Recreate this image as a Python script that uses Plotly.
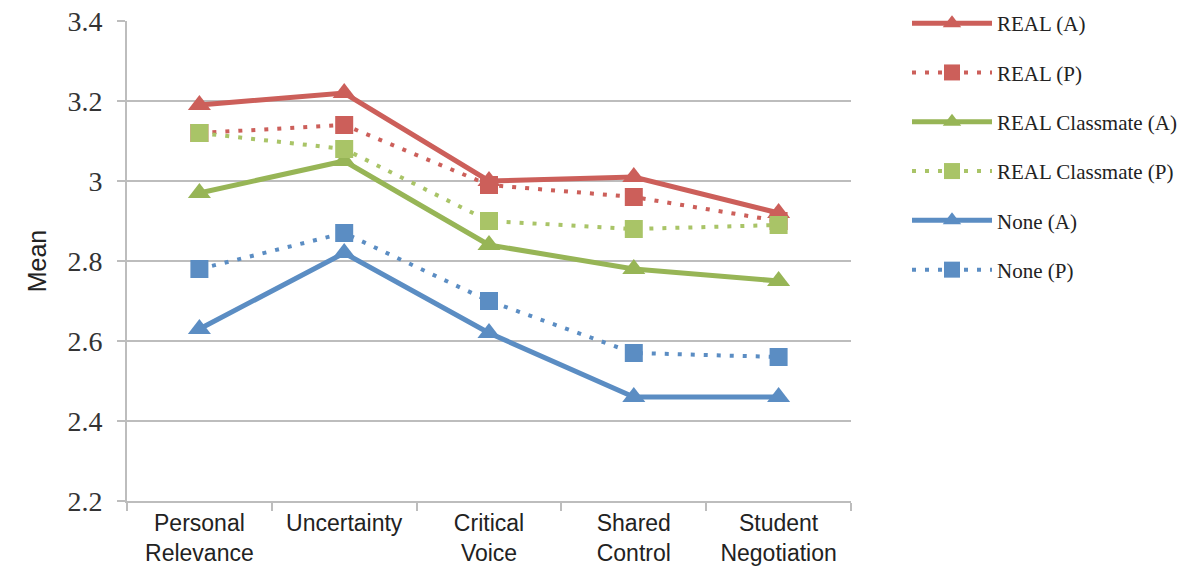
import plotly.graph_objects as go

categories = ["Personal<br>Relevance", "Uncertainty", "Critical<br>Voice", "Shared<br>Control", "Student<br>Negotiation"]

real_a = [3.19, 3.22, 3.00, 3.01, 2.92]
real_p = [3.12, 3.14, 2.99, 2.96, 2.90]
classmate_a = [2.97, 3.05, 2.84, 2.78, 2.75]
classmate_p = [3.12, 3.08, 2.90, 2.88, 2.89]
none_a = [2.63, 2.82, 2.62, 2.46, 2.46]
none_p = [2.78, 2.87, 2.70, 2.57, 2.56]

y_ticks = [2.2, 2.4, 2.6, 2.8, 3.0, 3.2, 3.4]
y_tick_labels = ["2.2", "2.4", "2.6", "2.8", "3", "3.2", "3.4"]

RED = "#CC5F5A"
GREEN_A = "#97B556"
GREEN_P = "#A9C467"
BLUE = "#5B8DC3"

series = [
    ("REAL (A)", real_a, RED, "solid", "triangle-up"),
    ("REAL (P)", real_p, RED, "4px,9px", "square"),
    ("REAL Classmate (A)", classmate_a, GREEN_A, "solid", "triangle-up"),
    ("REAL Classmate (P)", classmate_p, GREEN_P, "4px,9px", "square"),
    ("None (A)", none_a, BLUE, "solid", "triangle-up"),
    ("None (P)", none_p, BLUE, "4px,9px", "square"),
]

fig = go.Figure()
for i, (name, vals, color, dash, sym) in enumerate(series):
    fig.add_trace(go.Scatter(
        x=categories, y=vals, name=name, mode="lines+markers",
        line=dict(color=color, width=5 if dash == "solid" else 4, dash=dash),
        marker=dict(symbol=sym, size=18 if sym == "square" else 20, color=color),
        legendgroup=f"g{i}",
        cliponaxis=False,
    ))

W, H = 1184, 570
ML, MB = 127, 69
PW, PH = W - ML, H - MB  # paper area
grid = "#BDBDBD"
fig.update_layout(
    width=W, height=H,
    margin=dict(l=ML, r=0, t=0, b=MB, autoexpand=False),
    paper_bgcolor="white", plot_bgcolor="white",
    showlegend=True,
    legend=dict(
        xref="paper", yref="paper",
        x=(907 - ML) / PW, y=(PH - 3) / PH, xanchor="left", yanchor="top",
        font=dict(family="Liberation Serif", size=21, color="#222"),
        tracegroupgap=19, itemwidth=80,
        bgcolor="rgba(0,0,0,0)",
    ),
    xaxis=dict(
        domain=[0, 724 / PW],
        type="category", tickson="boundaries", ticks="outside", ticklen=8,
        tickcolor=grid, tickwidth=2,
        showline=True, linecolor=grid, linewidth=2,
        showgrid=False, automargin=False,
        tickfont=dict(family="Liberation Sans", size=23, color="#222"),
        range=[-0.5, 4.5],
    ),
    yaxis=dict(
        domain=[0, 480 / PH],
        range=[2.2, 3.4], tickvals=y_ticks, ticktext=y_tick_labels,
        ticks="outside", ticklen=8, tickcolor=grid, tickwidth=2,
        showline=True, linecolor=grid, linewidth=2,
        showgrid=True, gridcolor=grid, gridwidth=2,
        zeroline=False, automargin=False,
        ticklabelstandoff=9,
        tickfont=dict(family="Liberation Serif", size=28, color="#333"),
        title=dict(text="Mean", font=dict(family="Liberation Sans", size=25, color="#222"), standoff=14),
    ),
)

fig.write_html("out.html")
